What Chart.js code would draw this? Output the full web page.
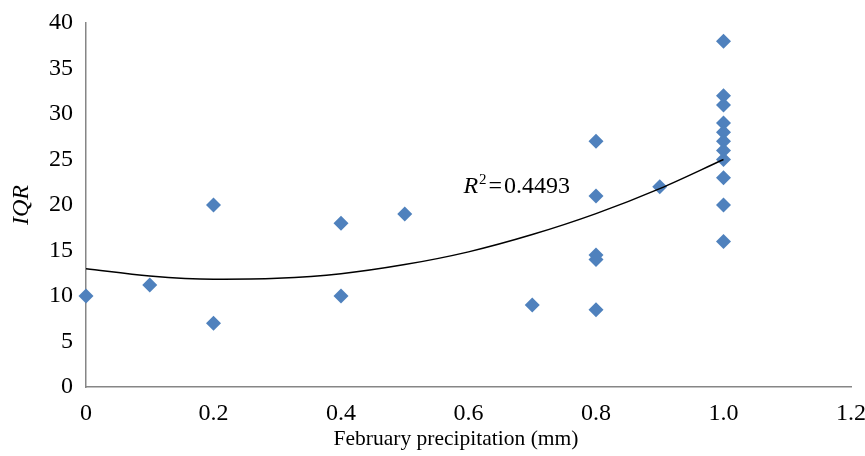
<!DOCTYPE html>
<html>
<head>
<meta charset="utf-8">
<script src="https://cdn.jsdelivr.net/npm/chart.js@4/dist/chart.umd.min.js"></script>
<style>
  html, body { margin: 0; padding: 0; background: #fff; }
  #wrap { width: 865px; height: 456px; }
</style>
</head>
<body>
<div id="wrap"><canvas id="iqrChart" width="865" height="456"></canvas></div>
<script>
// precipitation (x) and IQR (y)
const precipX = [0, 0.1, 0.2, 0.2, 0.4, 0.4, 0.5, 0.7,
  0.8, 0.8, 0.8, 0.8, 0.8, 0.9,
  1.0, 1.0, 1.0, 1.0, 1.0, 1.0, 1.0, 1.0, 1.0, 1.0, 1.0];
const iqrY = [10, 11.2, 20, 7, 18, 10, 19, 9,
  27, 21, 14.5, 14, 8.5, 22,
  38, 32, 31, 29, 28, 27, 26, 25, 23, 20, 16];
// polynomial trendline, sampled off the drawn curve
const trendX = [0, 0.1, 0.2, 0.3, 0.4, 0.5, 0.6, 0.7, 0.8, 0.9, 1.0];
const trendY = [13.0, 12.2, 11.85, 11.95, 12.45, 13.45, 14.85, 16.75, 19.05, 21.8, 25.0];
const xTicks = [0, 0.2, 0.4, 0.6, 0.8, 1.0, 1.2];
const yTicks = [0, 5, 10, 15, 20, 25, 30, 35, 40];
const xTitle = 'February precipitation (mm)';
const r2Text = '0.4493';

(function () {
  const serif = "'Liberation Serif', 'DejaVu Serif', serif";
  const axisGrey = '#868686';
  const markerBlue = '#4F81BD';

  // R² note and the x title (the title sits a bit left of the plot centre)
  const annotations = {
    id: 'annotations',
    afterDatasetsDraw(chart) {
      const ctx = chart.ctx;
      const px = chart.scales.x.getPixelForValue(0.592);
      const py = chart.scales.y.getPixelForValue(21.3);
      ctx.save();
      ctx.fillStyle = '#000';
      ctx.textBaseline = 'alphabetic';
      ctx.textAlign = 'left';
      ctx.font = 'italic 24px ' + serif;
      ctx.fillText('R', px, py);
      let cx = px + ctx.measureText('R').width + 1;
      ctx.font = '15px ' + serif;
      ctx.fillText('2', cx, py - 9);
      cx += ctx.measureText('2').width + 2;
      ctx.font = '24px ' + serif;
      ctx.fillText('=', cx, py);
      cx += ctx.measureText('=').width + 2;
      ctx.fillText(r2Text, cx, py);

      ctx.font = '21.5px ' + serif;
      ctx.textAlign = 'center';
      ctx.textBaseline = 'middle';
      ctx.fillText(xTitle, 456, 439);
      ctx.restore();
    }
  };

  new Chart(document.getElementById('iqrChart'), {
    type: 'scatter',
    data: {
      datasets: [{
        data: precipX.map((x, i) => ({ x, y: iqrY[i] })),
        pointStyle: 'rectRot',
        pointRadius: 7.5,
        backgroundColor: markerBlue,
        borderColor: markerBlue,
        borderWidth: 0,
        clip: false,
        order: 2
      }, {
        data: trendX.map((x, i) => ({ x, y: trendY[i] })),
        showLine: true,
        pointRadius: 0,
        borderColor: '#000',
        borderWidth: 1.5,
        cubicInterpolationMode: 'monotone',
        fill: false,
        order: 1
      }]
    },
    options: {
      responsive: false,
      animation: false,
      events: [],
      layout: { padding: { top: 23, right: 14, left: 0, bottom: 0 } },
      plugins: { legend: { display: false }, tooltip: { enabled: false } },
      scales: {
        x: {
          type: 'linear',
          min: xTicks[0],
          max: xTicks[xTicks.length - 1],
          afterBuildTicks(scale) { scale.ticks = xTicks.map((v) => ({ value: v })); },
          afterFit(scale) {
            scale.height = 69;
            scale.paddingLeft = 0;
            scale.paddingRight = 0;
          },
          grid: { display: false, drawOnChartArea: false, drawTicks: true, tickLength: 6, color: axisGrey },
          border: { color: axisGrey, width: 1.5 },
          ticks: {
            color: '#000',
            font: { family: serif, size: 24 },
            padding: 6,
            maxRotation: 0,
            callback: (v) => (v === 0 ? '0' : Number(v).toFixed(1))
          },
          title: { display: false }
        },
        y: {
          min: yTicks[0],
          max: yTicks[yTicks.length - 1],
          afterBuildTicks(scale) { scale.ticks = yTicks.map((v) => ({ value: v })); },
          afterFit(scale) {
            scale.width = 86;
            scale.paddingTop = 0;
            scale.paddingBottom = 0;
          },
          grid: { display: false, drawOnChartArea: false, drawTicks: true, tickLength: 6, color: axisGrey },
          border: { color: axisGrey, width: 1.5 },
          ticks: {
            color: '#000',
            font: { family: serif, size: 24 },
            padding: 7
          },
          title: {
            display: true,
            text: 'IQR',
            color: '#000',
            font: { family: serif, size: 24, style: 'italic' },
            padding: { top: 7, bottom: 0 }
          }
        }
      }
    },
    plugins: [annotations]
  });
})();
</script>
</body>
</html>
